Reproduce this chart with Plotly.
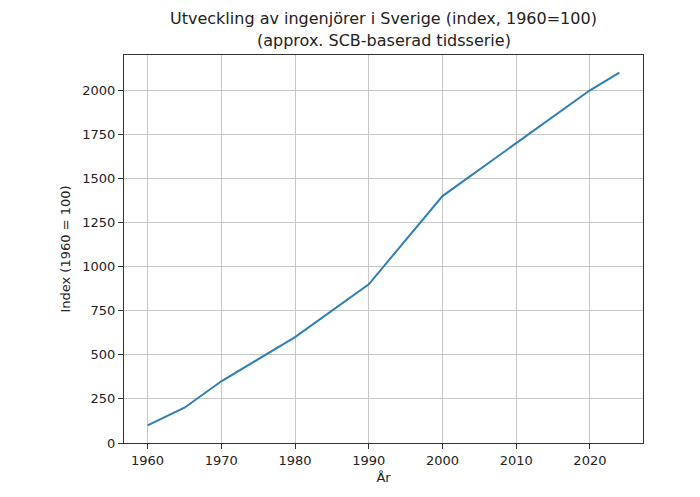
import plotly.graph_objects as go

years = [1960, 1965, 1970, 1980, 1990, 2000, 2010, 2020, 2024]
index_values = [100, 200, 350, 600, 900, 1400, 1700, 2000, 2100]
x_ticks = [1960, 1970, 1980, 1990, 2000, 2010, 2020]
y_ticks = [0, 250, 500, 750, 1000, 1250, 1500, 1750, 2000]

title_line1 = "Utveckling av ingenjörer i Sverige (index, 1960=100)"
title_line2 = "(approx. SCB-baserad tidsserie)"

fig = go.Figure()
fig.add_trace(go.Scatter(x=years, y=index_values, mode="lines",
                         line=dict(color="#2f7fb5", width=2), showlegend=False))

font = "DejaVu Sans, Liberation Sans, sans-serif"
axis_common = dict(showline=True, linecolor="#333333", linewidth=1.2, mirror=True,
                   ticks="outside", ticklen=5, tickcolor="#333333", tickwidth=1,
                   showgrid=True, gridcolor="#c8c8c8", gridwidth=1, zeroline=False,
                   tickfont=dict(family=font, size=13, color="#222222"))

top, bottom = 55, 54
plot_h = 497 - top - bottom

def py(pix):
    return 1 + (top - pix) / plot_h

fig.update_layout(
    width=700, height=497,
    paper_bgcolor="white", plot_bgcolor="white",
    margin=dict(l=124, r=57, t=top, b=bottom),
    xaxis=dict(range=[1956.8, 2027.2], tickvals=x_ticks,
               title=dict(text="År", font=dict(family=font, size=13, color="#222222"), standoff=6),
               **axis_common),
    yaxis=dict(range=[0, 2200], tickvals=y_ticks,
               title=dict(text="Index (1960 = 100)", font=dict(family=font, size=13, color="#222222"), standoff=8),
               **axis_common),
    annotations=[
        dict(text=title_line1, xref="paper", yref="paper", x=0.5, y=py(19), xanchor="center",
             yanchor="middle", showarrow=False, font=dict(family=font, size=16, color="#222222")),
        dict(text=title_line2, xref="paper", yref="paper", x=0.5, y=py(41), xanchor="center",
             yanchor="middle", showarrow=False, font=dict(family=font, size=16, color="#222222")),
    ],
)

fig.write_html("out.html")
